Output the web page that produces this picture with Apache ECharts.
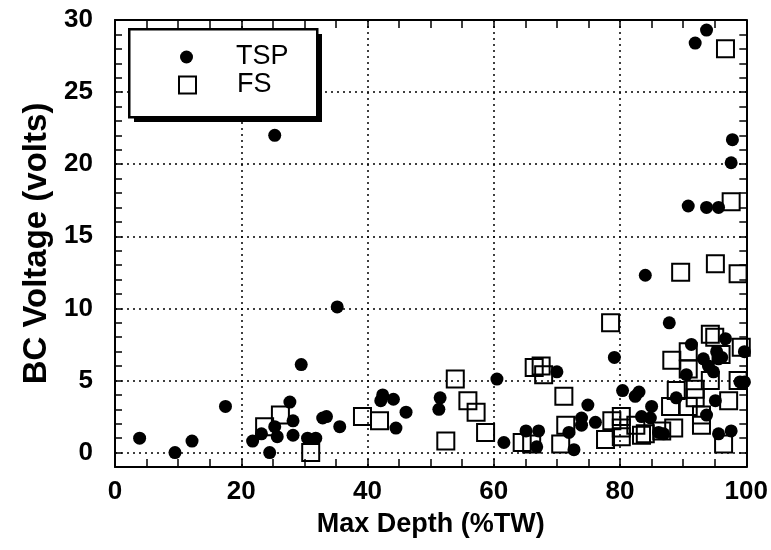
<!DOCTYPE html>
<html>
<head>
<meta charset="utf-8">
<script src="https://cdn.jsdelivr.net/npm/echarts@6/dist/echarts.min.js"></script>
<style>
  html, body { margin: 0; padding: 0; background: #fff; }
  #chart { width: 771px; height: 550px; }
</style>
</head>
<body>
<div id="chart"></div>
<script>
// TSP points (Max Depth %TW, BC Voltage volts)
const tspX = [3.9, 9.5, 12.2, 17.5, 21.8, 23.2, 24.5, 25.3, 25.7, 25.3, 27.7, 28.2, 28.2, 29.5, 30.5, 31.8, 32.9, 33.5,
  35.2, 35.6, 42.1, 42.4, 44.1, 44.5, 46.1, 51.3, 51.5, 60.5, 61.6, 65.1, 66.8, 67.1, 70.0, 71.9, 72.7, 73.9, 73.9,
  74.9, 76.1, 79.1, 80.4, 82.4, 83.0, 83.4, 84.0, 84.8, 85.0, 86.1, 86.9, 87.8, 88.9, 90.5, 90.8, 91.3, 91.9, 93.2,
  93.7, 93.7, 93.7, 94.0, 94.8, 95.1, 95.3, 95.6, 95.6, 95.6, 96.1, 96.7, 97.6, 97.6, 97.8, 99.0, 99.7, 99.7]
const tspY = [1.0, 0.0, 0.8, 3.2, 0.8, 1.3, 0.0, 1.8, 1.1, 22.0, 3.5, 2.2, 1.2, 6.1, 1.0, 1.0, 2.4, 2.5,
  10.1, 1.8, 3.6, 4.0, 3.7, 1.7, 2.8, 3.0, 3.8, 5.1, 0.7, 1.5, 0.4, 1.5, 5.6, 1.4, 0.2, 2.4, 1.9,
  3.3, 2.1, 6.6, 4.3, 3.9, 4.2, 2.5, 12.3, 2.4, 3.2, 1.4, 1.3, 9.0, 3.8, 5.4, 17.1, 7.5, 28.4, 6.5,
  29.3, 17.0, 2.6, 6.0, 5.6, 3.6, 7.0, 17.0, 6.5, 1.3, 6.6, 7.9, 20.1, 1.5, 21.7, 4.9, 4.9, 7.0]

// FS points
const fsX = [23.7, 26.2, 31.0, 39.2, 41.9, 52.4, 53.9, 55.9, 57.2, 58.7, 64.5, 66.0, 66.4, 67.5, 67.9, 70.6, 71.1,
  71.4, 77.7, 78.5, 78.7, 80.2, 80.2, 80.2, 82.5, 83.4, 84.0, 86.6, 88.0, 88.2, 88.5, 88.9, 89.6, 90.8, 90.8, 90.8,
  91.9, 91.9, 92.9, 92.9, 94.3, 94.3, 95.0, 95.1, 96.0, 96.4, 96.7, 97.2, 97.6, 98.7, 98.7, 99.2]
const fsY = [1.8, 2.6, 0.0, 2.5, 2.2, 0.8, 5.1, 3.6, 2.8, 1.4, 0.7, 0.6, 5.9, 6.0, 5.4, 0.6, 3.9,
  1.9, 0.9, 9.0, 2.2, 2.5, 1.7, 1.1, 1.9, 1.2, 1.3, 1.5, 3.2, 6.4, 1.7, 4.3, 12.5, 7.0, 5.8, 3.2,
  4.4, 3.8, 2.6, 1.9, 8.2, 5.0, 8.0, 13.1, 6.8, 0.6, 28.0, 3.6, 17.4, 12.4, 5.0, 7.3]

// horizontal dotted grid levels
const yGridLevels = [0, 5, 10, 15, 20, 25]

const FONT = '"Liberation Sans", Arial, sans-serif'
const dotted = { color: '#000', width: 1.5, type: [2, 4] }

const zip = (xs, ys) => xs.map((x, i) => [x, ys[i]])

const chart = echarts.init(document.getElementById('chart'))

const baseX = {
  type: 'value',
  min: 0,
  max: 100,
  interval: 20,
  axisLine: { show: true, onZero: false, lineStyle: { color: '#000', width: 2 } },
  axisTick: { show: true, inside: true, length: 8, lineStyle: { color: '#000', width: 1.5 } },
  minorTick: { show: true, splitNumber: 4, length: 8, lineStyle: { color: '#000', width: 1.5 } }
}

const baseY = {
  type: 'value',
  min: -1,
  max: 30,
  interval: 1,
  axisLine: { show: true, onZero: false, lineStyle: { color: '#000', width: 2 } },
  axisTick: { show: true, inside: true, length: 7, lineStyle: { color: '#000', width: 1.5 } },
  splitLine: { show: false }
}

const legendText = { fontFamily: FONT, fontSize: 27, lineHeight: 28, color: '#000' }

const option = {
  backgroundColor: '#fff',
  animation: false,
  grid: { left: 115, right: 23, top: 20, bottom: 83 },
  xAxis: [
    Object.assign({}, baseX, {
      position: 'bottom',
      name: 'Max Depth (%TW)',
      nameLocation: 'middle',
      nameGap: 44,
      nameTextStyle: { fontFamily: FONT, fontWeight: 'bold', fontSize: 27, color: '#000' },
      axisLabel: { fontFamily: FONT, fontWeight: 'bold', fontSize: 26, color: '#000', margin: 12 },
      splitLine: { show: true, lineStyle: dotted }
    }),
    Object.assign({}, baseX, {
      position: 'top',
      axisLabel: { show: false },
      splitLine: { show: false }
    })
  ],
  yAxis: [
    Object.assign({}, baseY, {
      position: 'left',
      name: 'BC Voltage (volts)',
      nameLocation: 'middle',
      nameGap: 62,
      nameTextStyle: { fontFamily: FONT, fontWeight: 'bold', fontSize: 33, color: '#000' },
      axisLabel: {
        fontFamily: FONT, fontWeight: 'bold', fontSize: 26, color: '#000', margin: 22,
        formatter: v => (v % 5 === 0 && v >= 0 ? String(v) : '')
      }
    }),
    Object.assign({}, baseY, {
      position: 'right',
      axisLabel: { show: false }
    })
  ],
  legend: [
    {
      data: ['TSP'], orient: 'vertical', left: 180, top: 43, padding: 0, z: 20,
      itemWidth: 13, itemHeight: 13,
      textStyle: Object.assign({}, legendText, { padding: [0, 0, 0, 38] })
    },
    {
      data: ['FS'], orient: 'vertical', left: 178, top: 71, padding: 0, z: 20,
      itemWidth: 17, itemHeight: 17,
      textStyle: Object.assign({}, legendText, { padding: [0, 0, 0, 36] })
    }
  ],
  // legend frame: black offset block behind a white bordered box
  graphic: [
    {
      type: 'rect', left: 134, top: 34, z: 8,
      shape: { width: 188, height: 88 },
      style: { fill: '#000' }
    },
    {
      type: 'rect', left: 128, top: 28, z: 9,
      shape: { width: 188, height: 88 },
      style: { fill: '#fff', stroke: '#000', lineWidth: 2.5 }
    }
  ],
  series: [
    {
      name: 'FS',
      type: 'scatter',
      symbol: 'rect',
      symbolSize: 17,
      z: 2,
      itemStyle: { color: 'rgba(255,255,255,0)', borderColor: '#000', borderWidth: 2, opacity: 1 },
      data: zip(fsX, fsY),
      markLine: {
        silent: true,
        symbol: 'none',
        label: { show: false },
        lineStyle: dotted,
        data: yGridLevels.map(v => ({ yAxis: v }))
      }
    },
    {
      name: 'TSP',
      type: 'scatter',
      symbol: 'circle',
      symbolSize: 13,
      z: 3,
      itemStyle: { color: '#000', opacity: 1 },
      data: zip(tspX, tspY)
    }
  ]
}

chart.setOption(option)
</script>
</body>
</html>
